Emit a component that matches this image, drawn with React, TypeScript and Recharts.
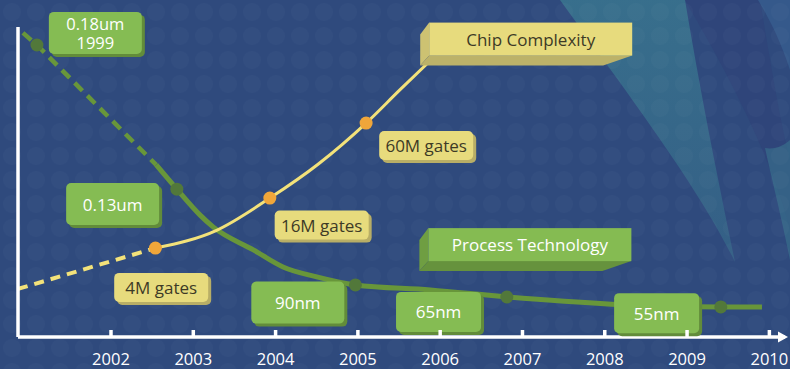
import type { CSSProperties } from "react";
import {
  ComposedChart,
  Line,
  ReferenceDot,
  Scatter,
  XAxis,
  YAxis,
} from "recharts";

// x axis is in years, y axis is an abstract 0..100 "level"
const YEARS = [2002, 2003, 2004, 2005, 2006, 2007, 2008, 2009, 2010];
const X_DOMAIN: [number, number] = [2000.87, 2010.19];
const Y_DOMAIN: [number, number] = [0, 100];

const processBefore = [
  { year: 2000.93, value: 98.1 },
  { year: 2001.1, value: 94.2 },
  { year: 2002.55, value: 55.5 },
];
const processAfter = [
  { year: 2002.55, value: 55.5 },
  { year: 2002.8, value: 47.7 },
  { year: 2003.08, value: 39.4 },
  { year: 2003.24, value: 35.5 },
  { year: 2003.73, value: 28.1 },
  { year: 2004.09, value: 22.6 },
  { year: 2004.5, value: 19.4 },
  { year: 2004.97, value: 16.8 },
  { year: 2005.88, value: 15.2 },
  { year: 2006.81, value: 12.9 },
  { year: 2008.08, value: 10.6 },
  { year: 2009.41, value: 9.7 },
  { year: 2009.91, value: 9.7 },
];
const processNodes = [
  { year: 2001.1, value: 94.2 },
  { year: 2002.8, value: 47.7 },
  { year: 2004.97, value: 16.8 },
  { year: 2006.81, value: 12.9 },
  { year: 2009.41, value: 9.7 },
];

const complexityBefore = [
  { year: 2000.87, value: 15.5 },
  { year: 2002.54, value: 28.7 },
];
const complexityAfter = [
  { year: 2002.54, value: 28.7 },
  { year: 2003.29, value: 34.5 },
  { year: 2003.93, value: 44.8 },
  { year: 2004.52, value: 55.8 },
  { year: 2005.1, value: 69.0 },
  { year: 2005.51, value: 79.7 },
  { year: 2005.85, value: 88.4 },
];
const complexityNodes = [
  { year: 2002.54, value: 28.7 },
  { year: 2003.93, value: 44.8 },
  { year: 2005.1, value: 69.0 },
];

const nodeLabels = [
  { lines: ["0.18um", "1999"], year: 2001.81, value: 98.1, size: "big" },
  { lines: ["0.13um"], year: 2002.02, value: 42.9, size: "big" },
  { lines: ["90nm"], year: 2004.27, value: 11.1, size: "big" },
  { lines: ["65nm"], year: 2005.98, value: 8.1, size: "small" },
  { lines: ["55nm"], year: 2008.63, value: 7.7, size: "small" },
];
const gateLabels = [
  { text: "4M gates", year: 2002.61, value: 16.0 },
  { text: "16M gates", year: 2004.56, value: 36.1 },
  { text: "60M gates", year: 2005.83, value: 61.8 },
];
const seriesTitles = [
  { text: "Chip Complexity", year: 2007.1, value: 96.1, tone: "yellow" },
  { text: "Process Technology", year: 2007.09, value: 29.8, tone: "green" },
];

const FONT = '"Open Sans", "Noto Sans", sans-serif';
const GREEN = "#68963a";
const GREEN_DOT = "#52783a";
const YELLOW = "#f3e27a";
const ORANGE = "#f0a63a";

function YearTick({ x, y, payload }: any) {
  return (
    <g>
      <line x1={x} x2={x} y1={y - 7} y2={y} stroke="#fff" strokeWidth={3.5} />
      <text
        x={x}
        y={y + 28}
        textAnchor="middle"
        fill="#fff"
        fontSize={16.5}
        fontFamily={FONT}
      >
        {payload.value}
      </text>
    </g>
  );
}

function Tag({ cx, cy, lines, w, h, fill, shade, color }: any) {
  const lh = 19;
  const top = cy - ((lines.length - 1) * lh) / 2;
  return (
    <g>
      <rect x={cx - w / 2 + 3} y={cy - h / 2 + 3} width={w} height={h} rx={5} fill={shade} />
      <rect x={cx - w / 2} y={cy - h / 2} width={w} height={h} rx={5} fill={fill} />
      {lines.map((t: string, i: number) => (
        <text
          key={t}
          x={cx}
          y={top + i * lh}
          textAnchor="middle"
          dominantBaseline="central"
          fill={color}
          fontSize={lines.length > 1 ? 16.5 : 17}
          fontFamily={FONT}
        >
          {t}
        </text>
      ))}
    </g>
  );
}

function Banner({ cx, cy, text, tone }: any) {
  const w = 203;
  const h = 33;
  const x0 = cx - w / 2;
  const y0 = cy - h / 2;
  const x1 = cx + w / 2;
  const y1 = cy + h / 2;
  const c =
    tone === "yellow"
      ? { front: "#e7db7d", left: "#cdc272", bottom: "#bcb269", text: "#3d3a26" }
      : { front: "#85bb52", left: "#6f9e42", bottom: "#66923d", text: "#ffffff" };
  return (
    <g>
      <polygon
        points={`${x0 - 9},${y0 + 12} ${x0},${y0} ${x0},${y1} ${x0 - 9},${y1 + 10}`}
        fill={c.left}
      />
      <polygon
        points={`${x0 - 9},${y1 + 10} ${x0},${y1} ${x1},${y1} ${x1 - 29},${y1 + 10}`}
        fill={c.bottom}
      />
      <rect x={x0} y={y0} width={w} height={h} fill={c.front} />
      <text
        x={cx}
        y={cy}
        textAnchor="middle"
        dominantBaseline="central"
        fill={c.text}
        fontSize={17}
        fontFamily={FONT}
      >
        {text}
      </text>
    </g>
  );
}

function Arrowhead({ cx, cy }: any) {
  return (
    <polygon
      points={`${cx + 3},${cy} ${cx - 7},${cy - 5.5} ${cx - 7},${cy + 5.5}`}
      fill="#fff"
    />
  );
}

export default function App() {
  return (
    <div style={styles.page}>
      <svg width={790} height={369} style={styles.layer}>
        <defs>
          <pattern id="dots" width="24" height="24" patternUnits="userSpaceOnUse">
            <circle cx="12" cy="12" r="9" fill="#ffffff" opacity="0.018" />
          </pattern>
          <linearGradient id="sweep" x1="0" y1="0" x2="0" y2="1">
            <stop offset="0" stopColor="#3a7890" stopOpacity="0.8" />
            <stop offset="1" stopColor="#3a7890" stopOpacity="0.45" />
          </linearGradient>
        </defs>
        <rect width={790} height={369} fill="#2f4a7d" />
        <path d="M685,0 L760,0 C770,60 780,120 790,160 L790,230 C770,150 720,60 685,0 Z" fill="#303f78" opacity={0.5} />
        <path d="M560,0 L685,0 C700,90 716,170 735,262 C705,200 655,130 560,0 Z" fill="url(#sweep)" />
        <path d="M758,0 L790,0 L790,70 C780,40 770,20 758,0 Z" fill="#35598b" />
        <path d="M765,148 C775,150 785,145 790,140 L790,260 C782,220 772,180 765,148 Z" fill="#3a7890" opacity={0.55} />
        <rect width={790} height={369} fill="url(#dots)" />
      </svg>
      <div style={styles.layer}>
        <ComposedChart
          width={790}
          height={369}
          margin={{ top: 27, right: 5, bottom: 0, left: 0 }}
        >
          <XAxis
            type="number"
            dataKey="year"
            domain={X_DOMAIN}
            ticks={YEARS}
            interval={0}
            allowDataOverflow
            height={32}
            axisLine={{ stroke: "#fff", strokeWidth: 3.5 }}
            tickLine={false}
            tickSize={0}
            tickMargin={0}
            tick={<YearTick />}
          />
          <YAxis
            type="number"
            domain={Y_DOMAIN}
            allowDataOverflow
            width={18}
            axisLine={{ stroke: "#fff", strokeWidth: 3.5 }}
            tickLine={false}
            tick={false}
          />
          <Line
            data={processBefore}
            dataKey="value"
            type="linear"
            stroke={GREEN}
            strokeWidth={4.5}
            strokeDasharray="11 7"
            dot={false}
            activeDot={false}
            isAnimationActive={false}
          />
          <Line
            data={processAfter}
            dataKey="value"
            type="monotone"
            stroke={GREEN}
            strokeWidth={5}
            dot={false}
            activeDot={false}
            isAnimationActive={false}
          />
          <Scatter
            data={processNodes}
            dataKey="value"
            isAnimationActive={false}
            shape={(p: any) => <circle cx={p.cx} cy={p.cy} r={6.5} fill={GREEN_DOT} />}
          />
          <Line
            data={complexityBefore}
            dataKey="value"
            type="linear"
            stroke={YELLOW}
            strokeWidth={4}
            strokeDasharray="10 7"
            dot={false}
            activeDot={false}
            isAnimationActive={false}
          />
          <Line
            data={complexityAfter}
            dataKey="value"
            type="monotone"
            stroke={YELLOW}
            strokeWidth={3}
            dot={false}
            activeDot={false}
            isAnimationActive={false}
          />
          <Scatter
            data={complexityNodes}
            dataKey="value"
            isAnimationActive={false}
            shape={(p: any) => <circle cx={p.cx} cy={p.cy} r={6.5} fill={ORANGE} />}
          />
          <ReferenceDot
            x={X_DOMAIN[1]}
            y={Y_DOMAIN[0]}
            ifOverflow="visible"
            shape={(p: any) => <Arrowhead cx={p.cx} cy={p.cy} />}
          />
          {nodeLabels.map((n) => (
            <ReferenceDot
              key={n.lines.join()}
              x={n.year}
              y={n.value}
              ifOverflow="visible"
              shape={(p: any) => (
                <Tag
                  cx={p.cx}
                  cy={p.cy}
                  lines={n.lines}
                  w={n.size === "big" ? 93 : 85}
                  h={n.size === "big" ? 42 : 40}
                  fill="#85bc53"
                  shade="#628c3a"
                  color="#ffffff"
                />
              )}
            />
          ))}
          {gateLabels.map((g) => (
            <ReferenceDot
              key={g.text}
              x={g.year}
              y={g.value}
              ifOverflow="visible"
              shape={(p: any) => (
                <Tag
                  cx={p.cx}
                  cy={p.cy}
                  lines={[g.text]}
                  w={94}
                  h={29}
                  fill="#e7db7d"
                  shade="#b8ae66"
                  color="#3d3a26"
                />
              )}
            />
          ))}
          {seriesTitles.map((s) => (
            <ReferenceDot
              key={s.text}
              x={s.year}
              y={s.value}
              ifOverflow="visible"
              shape={(p: any) => (
                <Banner cx={p.cx} cy={p.cy} text={s.text} tone={s.tone} />
              )}
            />
          ))}
        </ComposedChart>
      </div>
    </div>
  );
}

const styles: Record<string, CSSProperties> = {
  page: {
    position: "fixed",
    left: 0,
    top: 0,
    width: 790,
    height: 369,
    overflow: "hidden",
    background: "#2f4a7d",
  },
  layer: {
    position: "absolute",
    left: 0,
    top: 0,
  },
};
